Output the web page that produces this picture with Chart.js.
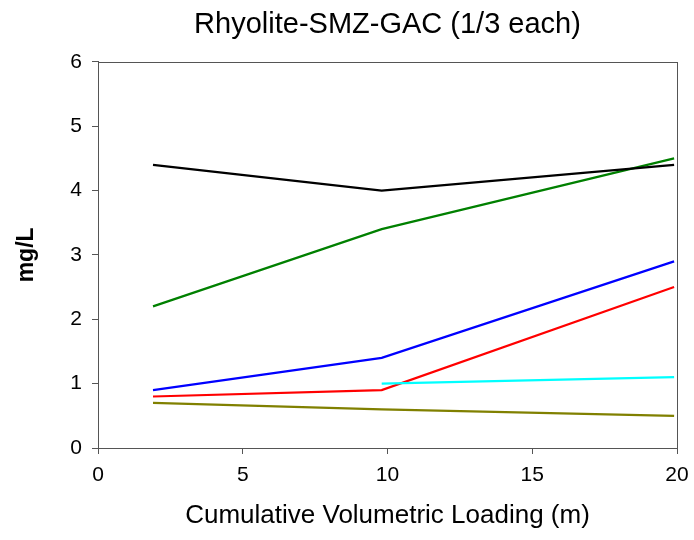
<!DOCTYPE html>
<html>
<head>
<meta charset="utf-8">
<script src="https://cdn.jsdelivr.net/npm/chart.js@4"></script>
<style>
html,body{margin:0;padding:0;background:#fff;}
canvas{display:block;}
</style>
</head>
<body>
<canvas id="c" width="694" height="540"></canvas>
<script>
const xValues = [1.9, 9.8, 19.9];
const blackSeries = [4.4, 4.0, 4.4];
const greenSeries = [2.2, 3.4, 4.5];
const blueSeries = [0.9, 1.4, 2.9];
const redSeries = [0.8, 0.9, 2.5];
const cyanSeries = [null, 1.0, 1.1];
const oliveSeries = [0.7, 0.6, 0.5];
const xTicks = [0, 5, 10, 15, 20];
const yTicks = [0, 1, 2, 3, 4, 5, 6];

function pts(arr) {
  return arr.map((v, i) => ({x: xValues[i], y: v})).filter(p => p.y !== null);
}
const series = [
  {data: oliveSeries, color: '#808000'},
  {data: cyanSeries, color: '#00ffff'},
  {data: redSeries, color: '#ff0000'},
  {data: blueSeries, color: '#0000ff'},
  {data: blackSeries, color: '#000000'},
  {data: greenSeries, color: '#008000'}
];

const frame = {
  id: 'frame',
  afterDatasetsDraw(chart) {
    const a = chart.chartArea, ctx = chart.ctx;
    ctx.save();
    ctx.strokeStyle = '#555';
    ctx.lineWidth = 1;
    ctx.strokeRect(Math.round(a.left) + 0.5, Math.round(a.top) + 0.5, Math.round(a.right - a.left), Math.round(a.bottom - a.top));
    ctx.restore();
  }
};

const font = 'Liberation Sans, Arial, sans-serif';
new Chart(document.getElementById('c'), {
  type: 'line',
  data: {
    datasets: series.map(s => ({
      data: pts(s.data),
      borderColor: s.color,
      borderWidth: 2.2,
      pointRadius: 0,
      fill: false,
      tension: 0
    }))
  },
  options: {
    responsive: false,
    animation: false,
    devicePixelRatio: 1,
    layout: {padding: {left: 13, right: 17, top: 0, bottom: 9}},
    plugins: {
      legend: {display: false},
      tooltip: {enabled: false},
      title: {
        display: true,
        fullSize: false,
        text: 'Rhyolite-SMZ-GAC (1/3 each)',
        color: '#000',
        font: {family: font, size: 29, weight: 'normal'},
        padding: {top: 8, bottom: 19}
      }
    },
    scales: {
      x: {
        type: 'linear',
        min: 0, max: 20,
        afterBuildTicks: s => { s.ticks = xTicks.map(v => ({value: v})); },
        afterFit: s => { s.height = 83; s.paddingRight = 0; s.paddingLeft = 0; },
        ticks: {color: '#000', font: {family: font, size: 21}, padding: 9, maxRotation: 0},
        grid: {drawOnChartArea: false, drawTicks: true, tickLength: 6, color: '#555'},
        border: {display: true, color: '#555'},
        title: {display: true, text: 'Cumulative Volumetric Loading (m)', color: '#000', font: {family: font, size: 26}, padding: 0}
      },
      y: {
        type: 'linear',
        min: 0, max: 6,
        afterBuildTicks: s => { s.ticks = yTicks.map(v => ({value: v})); },
        afterFit: s => { s.width = 85; s.paddingTop = 0; s.paddingBottom = 0; },
        ticks: {color: '#000', font: {family: font, size: 21}, padding: 10},
        grid: {drawOnChartArea: false, drawTicks: true, tickLength: 6, color: '#555'},
        border: {display: true, color: '#555'},
        title: {display: true, text: 'mg/L', color: '#000', font: {family: font, size: 23, weight: 'bold'}, padding: 0}
      }
    }
  },
  plugins: [frame]
});
</script>
</body>
</html>
